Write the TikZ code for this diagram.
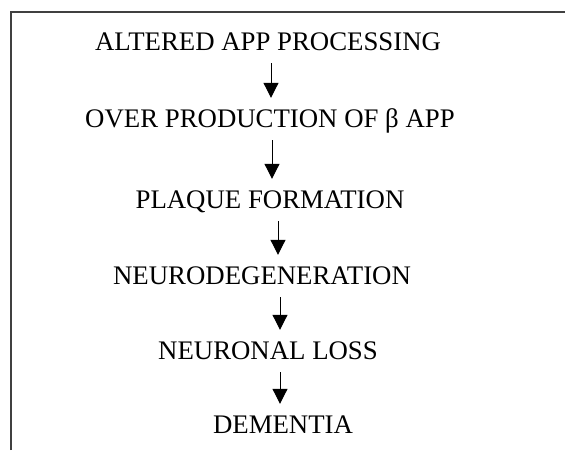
\documentclass[tikz,border=0pt]{standalone}
\usepackage{fontspec}
\setmainfont{Liberation Serif}
\usetikzlibrary{positioning, arrows.meta}

\begin{document}
\begin{tikzpicture}[
  x=1pt, y=-1pt,
  % ---- Style definitions ----
  stage/.style={
    anchor=base, inner sep=0pt, text height=17pt, text depth=5pt,
    font=\fontsize{26.8}{30}\selectfont, text=black
  },
  arr/.style={
    -{Triangle[length=15pt, width=15pt]}, line width=1pt, color=black,
    shorten <=8pt, shorten >=12pt
  },
  frame/.style={
    draw=black!75, line width=1.8pt
  },
]
\useasboundingbox (0,0) rectangle (565,450);

% ---- Frame (top and left only) ----
\draw[frame] (11,450) -- (11,12) -- (565,12);

% ---- Stages (top to bottom) ----
\node[stage] (m1) at (268,50)  {ALTERED APP PROCESSING};
\node[stage] (m2) at (270,127) {OVER PRODUCTION OF β APP};
\node[stage] (m3) at (270,208) {PLAQUE FORMATION};
\node[stage] (m4) at (262,284) {NEURODEGENERATION};
\node[stage] (m5) at (268,359) {NEURONAL LOSS};
\node[stage] (m6) at (283,433) {DEMENTIA};

% ---- Flow arrows ----
\draw[arr] ([xshift=3pt]m1.south)  -- ([xshift=3pt]m1.south |- m2.north);
\draw[arr] ([xshift=2pt]m2.south)  -- ([xshift=2pt]m2.south |- m3.north);
\draw[arr] ([xshift=8pt]m3.south)  -- ([xshift=8pt]m3.south |- m4.north);
\draw[arr] ([xshift=18pt]m4.south) -- ([xshift=18pt]m4.south |- m5.north);
\draw[arr] ([xshift=12pt]m5.south) -- ([xshift=12pt]m5.south |- m6.north);

\end{tikzpicture}
\end{document}
